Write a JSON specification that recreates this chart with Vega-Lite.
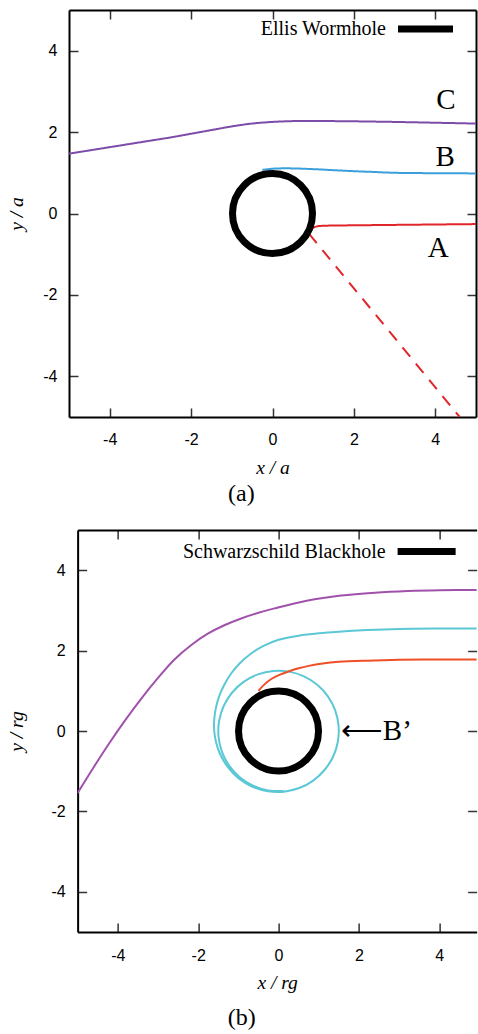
{
  "$schema": "https://vega.github.io/schema/vega-lite/v6.json",
  "padding": {"left": 6, "top": 9, "right": 0, "bottom": 0},
  "spacing": 23,
  "center": true,
  "background": "white",
  "resolve": {
    "scale": {"x": "independent", "y": "independent", "color": "independent", "stroke": "independent", "strokeDash": "independent"},
    "legend": {"color": "independent"}
  },
  "config": {
    "view": {"stroke": null},
    "axis": {
      "grid": false,
      "domainColor": "#000", "domainWidth": 2,
      "tickColor": "#333", "tickWidth": 1.5, "tickSize": -9,
      "labelFont": "Liberation Sans", "labelFontSize": 16, "labelColor": "#000",
      "labelExpr": "datum.value",
      "titleFont": "Liberation Serif", "titleFontSize": 19.5, "titleFontStyle": "italic", "titleFontWeight": "normal", "titleColor": "#000"
    },
    "title": {"font": "Liberation Serif", "fontSize": 24, "fontWeight": "normal", "color": "#000", "orient": "bottom", "anchor": "middle", "frame": "bounds"},
    "legend": {"labelFont": "Liberation Serif", "labelFontSize": 20, "labelColor": "#000", "padding": 0, "labelLimit": 400}
  },
  "datasets": {
    "wormhole": [
      {"curve": "C", "i": 0, "x": -5, "y": 1.47},
      {"curve": "C", "i": 1, "x": -4.5, "y": 1.55},
      {"curve": "C", "i": 2, "x": -4, "y": 1.63},
      {"curve": "C", "i": 3, "x": -3.5, "y": 1.71},
      {"curve": "C", "i": 4, "x": -3, "y": 1.79},
      {"curve": "C", "i": 5, "x": -2.5, "y": 1.87},
      {"curve": "C", "i": 6, "x": -2, "y": 1.96},
      {"curve": "C", "i": 7, "x": -1.5, "y": 2.05},
      {"curve": "C", "i": 8, "x": -1, "y": 2.14},
      {"curve": "C", "i": 9, "x": -0.5, "y": 2.21},
      {"curve": "C", "i": 10, "x": 0, "y": 2.25},
      {"curve": "C", "i": 11, "x": 0.5, "y": 2.27},
      {"curve": "C", "i": 12, "x": 1, "y": 2.275},
      {"curve": "C", "i": 13, "x": 1.5, "y": 2.27},
      {"curve": "C", "i": 14, "x": 2, "y": 2.265},
      {"curve": "C", "i": 15, "x": 3, "y": 2.25},
      {"curve": "C", "i": 16, "x": 4, "y": 2.23},
      {"curve": "C", "i": 17, "x": 5, "y": 2.21},
      {"curve": "B", "i": 0, "x": -0.25, "y": 1.07},
      {"curve": "B", "i": 1, "x": 0, "y": 1.1},
      {"curve": "B", "i": 2, "x": 0.3, "y": 1.11},
      {"curve": "B", "i": 3, "x": 0.6, "y": 1.105},
      {"curve": "B", "i": 4, "x": 1, "y": 1.09},
      {"curve": "B", "i": 5, "x": 1.5, "y": 1.065},
      {"curve": "B", "i": 6, "x": 2, "y": 1.04},
      {"curve": "B", "i": 7, "x": 2.5, "y": 1.02},
      {"curve": "B", "i": 8, "x": 3, "y": 1.0},
      {"curve": "B", "i": 9, "x": 4, "y": 0.99},
      {"curve": "B", "i": 10, "x": 5, "y": 0.985},
      {"curve": "A", "i": 0, "x": 0.95, "y": -0.4},
      {"curve": "A", "i": 1, "x": 1.0, "y": -0.35},
      {"curve": "A", "i": 2, "x": 1.1, "y": -0.315},
      {"curve": "A", "i": 3, "x": 1.3, "y": -0.3},
      {"curve": "A", "i": 4, "x": 1.6, "y": -0.295},
      {"curve": "A", "i": 5, "x": 2, "y": -0.29},
      {"curve": "A", "i": 6, "x": 3, "y": -0.28},
      {"curve": "A", "i": 7, "x": 4, "y": -0.27},
      {"curve": "A", "i": 8, "x": 5, "y": -0.26},
      {"curve": "A extension", "i": 0, "x": 0.9, "y": -0.5},
      {"curve": "A extension", "i": 1, "x": 4.6, "y": -5.0}
    ],
    "wormholeLabels": [
      {"label": "A", "x": 4.07, "y": -0.85},
      {"label": "B", "x": 4.24, "y": 1.38},
      {"label": "C", "x": 4.26, "y": 2.78}
    ],
    "wormholeObj": [{"x": 0, "y": 0, "object": "Ellis Wormhole"}],
    "blackhole": [
      {"curve": "purple", "i": 0, "x": -5, "y": -1.54},
      {"curve": "purple", "i": 1, "x": -4.6, "y": -0.9},
      {"curve": "purple", "i": 2, "x": -4.25, "y": -0.36},
      {"curve": "purple", "i": 3, "x": -3.85, "y": 0.22},
      {"curve": "purple", "i": 4, "x": -3.42, "y": 0.8},
      {"curve": "purple", "i": 5, "x": -3.0, "y": 1.32},
      {"curve": "purple", "i": 6, "x": -2.59, "y": 1.78},
      {"curve": "purple", "i": 7, "x": -2.17, "y": 2.14},
      {"curve": "purple", "i": 8, "x": -1.76, "y": 2.42},
      {"curve": "purple", "i": 9, "x": -1.35, "y": 2.63},
      {"curve": "purple", "i": 10, "x": -0.93, "y": 2.8},
      {"curve": "purple", "i": 11, "x": -0.5, "y": 2.94},
      {"curve": "purple", "i": 12, "x": -0.1, "y": 3.05},
      {"curve": "purple", "i": 13, "x": 0.7, "y": 3.24},
      {"curve": "purple", "i": 14, "x": 1.56, "y": 3.37},
      {"curve": "purple", "i": 15, "x": 2.4, "y": 3.44},
      {"curve": "purple", "i": 16, "x": 3.22, "y": 3.48},
      {"curve": "purple", "i": 17, "x": 4, "y": 3.5},
      {"curve": "purple", "i": 18, "x": 5, "y": 3.51},
      {"curve": "cyan", "i": 0, "x": 5.0, "y": 2.55},
      {"curve": "cyan", "i": 1, "x": 4.0, "y": 2.55},
      {"curve": "cyan", "i": 2, "x": 3.0, "y": 2.54},
      {"curve": "cyan", "i": 3, "x": 2.2, "y": 2.51},
      {"curve": "cyan", "i": 4, "x": 1.5, "y": 2.47},
      {"curve": "cyan", "i": 5, "x": 1.0, "y": 2.43},
      {"curve": "cyan", "i": 6, "x": 0.5, "y": 2.37},
      {"curve": "cyan", "i": 7, "x": 0.0, "y": 2.27},
      {"curve": "cyan", "i": 8, "x": -0.373, "y": 2.117},
      {"curve": "cyan", "i": 9, "x": -0.698, "y": 1.917},
      {"curve": "cyan", "i": 10, "x": -0.97, "y": 1.68},
      {"curve": "cyan", "i": 11, "x": -1.189, "y": 1.417},
      {"curve": "cyan", "i": 12, "x": -1.356, "y": 1.138},
      {"curve": "cyan", "i": 13, "x": -1.481, "y": 0.855},
      {"curve": "cyan", "i": 14, "x": -1.56, "y": 0.568},
      {"curve": "cyan", "i": 15, "x": -1.6, "y": 0.282},
      {"curve": "cyan", "i": 16, "x": -1.6, "y": 0.0},
      {"curve": "cyan", "i": 17, "x": -1.556, "y": -0.274},
      {"curve": "cyan", "i": 18, "x": -1.471, "y": -0.535},
      {"curve": "cyan", "i": 19, "x": -1.27, "y": -0.889},
      {"curve": "cyan", "i": 20, "x": -0.99, "y": -1.18},
      {"curve": "cyan", "i": 21, "x": -0.647, "y": -1.387},
      {"curve": "cyan", "i": 22, "x": -0.264, "y": -1.497},
      {"curve": "cyan", "i": 23, "x": 0.132, "y": -1.509},
      {"curve": "cyan", "i": 24, "x": 0.516, "y": -1.419},
      {"curve": "cyan", "i": 25, "x": 0.863, "y": -1.233},
      {"curve": "cyan", "i": 26, "x": 1.149, "y": -0.964},
      {"curve": "cyan", "i": 27, "x": 1.359, "y": -0.634},
      {"curve": "cyan", "i": 28, "x": 1.477, "y": -0.26},
      {"curve": "cyan", "i": 29, "x": 1.494, "y": 0.131},
      {"curve": "cyan", "i": 30, "x": 1.41, "y": 0.513},
      {"curve": "cyan", "i": 31, "x": 1.229, "y": 0.86},
      {"curve": "cyan", "i": 32, "x": 0.964, "y": 1.149},
      {"curve": "cyan", "i": 33, "x": 0.634, "y": 1.359},
      {"curve": "cyan", "i": 34, "x": 0.26, "y": 1.477},
      {"curve": "cyan", "i": 35, "x": -0.131, "y": 1.494},
      {"curve": "cyan", "i": 36, "x": -0.513, "y": 1.41},
      {"curve": "cyan", "i": 37, "x": -0.86, "y": 1.229},
      {"curve": "cyan", "i": 38, "x": -1.149, "y": 0.964},
      {"curve": "cyan", "i": 39, "x": -1.359, "y": 0.634},
      {"curve": "cyan", "i": 40, "x": -1.477, "y": 0.26},
      {"curve": "cyan", "i": 41, "x": -1.494, "y": -0.131},
      {"curve": "cyan", "i": 42, "x": -1.41, "y": -0.513},
      {"curve": "cyan", "i": 43, "x": -1.229, "y": -0.86},
      {"curve": "cyan", "i": 44, "x": -0.964, "y": -1.149},
      {"curve": "cyan", "i": 45, "x": -0.634, "y": -1.359},
      {"curve": "cyan", "i": 46, "x": -0.26, "y": -1.477},
      {"curve": "cyan", "i": 47, "x": 0.131, "y": -1.494},
      {"curve": "red", "i": 0, "x": -0.5, "y": 1.0},
      {"curve": "red", "i": 1, "x": -0.35, "y": 1.16},
      {"curve": "red", "i": 2, "x": -0.17, "y": 1.3},
      {"curve": "red", "i": 3, "x": 0.05, "y": 1.41},
      {"curve": "red", "i": 4, "x": 0.25, "y": 1.48},
      {"curve": "red", "i": 5, "x": 0.5, "y": 1.56},
      {"curve": "red", "i": 6, "x": 0.75, "y": 1.62},
      {"curve": "red", "i": 7, "x": 1.1, "y": 1.68},
      {"curve": "red", "i": 8, "x": 1.5, "y": 1.72},
      {"curve": "red", "i": 9, "x": 2.2, "y": 1.75},
      {"curve": "red", "i": 10, "x": 3, "y": 1.77},
      {"curve": "red", "i": 11, "x": 4, "y": 1.78},
      {"curve": "red", "i": 12, "x": 5, "y": 1.78}
    ],
    "blackholeLabels": [
      {"label": "⟵B’", "x": 1.55, "y": 0}
    ],
    "blackholeObj": [{"x": 0, "y": 0, "object": "Schwarzschild Blackhole"}]
  },
  "vconcat": [
    {
      "width": 407,
      "height": 407,
      "title": {"text": "(a)", "offset": 5, "dx": -5},
      "resolve": {"axis": {"x": "independent", "y": "independent"}},
      "layer": [
        {
          "data": {"name": "wormhole"},
          "mark": {"type": "line", "strokeWidth": 2, "clip": true, "interpolate": "catmull-rom"},
          "encoding": {
            "x": {"field": "x", "type": "quantitative", "scale": {"domain": [-5, 5], "nice": false, "zero": false},
                  "axis": {"orient": "bottom", "values": [-4, -2, 0, 2, 4], "title": "x / a", "labelPadding": 23, "titlePadding": 11}},
            "y": {"field": "y", "type": "quantitative", "scale": {"domain": [-5, 5], "nice": false, "zero": false},
                  "axis": {"orient": "left", "values": [-4, -2, 0, 2, 4], "title": "y / a", "labelPadding": 21, "titlePadding": 16.1}},
            "stroke": {"field": "curve", "type": "nominal", "scale": {"domain": ["A", "A extension", "B", "C"], "range": ["#e0262a", "#e0262a", "#3a9fda", "#7d4ca9"]}, "legend": null},
            "strokeDash": {"field": "curve", "type": "nominal", "scale": {"domain": ["A", "A extension", "B", "C"], "range": [[1, 0], [12, 9], [1, 0], [1, 0]]}, "legend": null},
            "order": {"field": "i", "type": "quantitative"}
          }
        },
        {
          "data": {"name": "wormholeObj"},
          "mark": {"type": "point", "shape": "circle", "filled": false, "strokeWidth": 7, "size": 6400, "opacity": 1},
          "encoding": {
            "x": {"field": "x", "type": "quantitative", "scale": {"domain": [-5, 5], "nice": false, "zero": false},
                  "axis": {"orient": "top", "values": [-4, -2, 0, 2, 4], "labels": false, "title": null}},
            "y": {"field": "y", "type": "quantitative", "scale": {"domain": [-5, 5], "nice": false, "zero": false},
                  "axis": {"orient": "right", "values": [-4, -2, 0, 2, 4], "labels": false, "title": null}},
            "color": {"field": "object", "type": "nominal", "scale": {"domain": ["Ellis Wormhole"], "range": ["#000000"]},
                      "legend": {"title": null, "orient": "none", "legendX": 343.5, "legendY": 6, "symbolType": "M-3,0L3,0", "symbolSize": 336, "symbolStrokeWidth": 7, "symbolStrokeColor": "#000", "labelAlign": "right", "labelOffset": -52.5}}
          }
        },
        {
          "data": {"name": "wormholeLabels"},
          "mark": {"type": "text", "font": "Liberation Serif", "fontSize": 29, "align": "center", "baseline": "middle", "color": "#000"},
          "encoding": {
            "x": {"field": "x", "type": "quantitative", "scale": {"domain": [-5, 5], "nice": false, "zero": false}, "axis": null},
            "y": {"field": "y", "type": "quantitative", "scale": {"domain": [-5, 5], "nice": false, "zero": false},
                  "axis": {"orient": "right", "offset": 10, "domainOpacity": 0, "ticks": false, "labels": false, "title": null}},
            "text": {"field": "label"}
          }
        }
      ]
    },
    {
      "width": 399,
      "height": 402,
      "title": {"text": "(b)", "offset": 14},
      "resolve": {"axis": {"x": "independent", "y": "independent"}},
      "layer": [
        {
          "data": {"name": "blackhole"},
          "mark": {"type": "line", "strokeWidth": 2, "clip": true, "interpolate": "catmull-rom"},
          "encoding": {
            "x": {"field": "x", "type": "quantitative", "scale": {"domain": [-5, 4.93], "nice": false, "zero": false},
                  "axis": {"orient": "bottom", "values": [-4, -2, 0, 2, 4], "title": "x / rg", "labelPadding": 24.5, "titlePadding": 10}},
            "y": {"field": "y", "type": "quantitative", "scale": {"domain": [-5, 5], "nice": false, "zero": false},
                  "axis": {"orient": "left", "values": [-4, -2, 0, 2, 4], "title": "y / rg", "labelPadding": 21.5, "titlePadding": 24.6}},
            "stroke": {"field": "curve", "type": "nominal", "scale": {"domain": ["purple", "cyan", "red"], "range": ["#a052ab", "#5bc8d6", "#f04e26"]}, "legend": null},
            "order": {"field": "i", "type": "quantitative"}
          }
        },
        {
          "data": {"name": "blackholeObj"},
          "mark": {"type": "point", "shape": "circle", "filled": false, "strokeWidth": 7, "size": 6400, "opacity": 1},
          "encoding": {
            "x": {"field": "x", "type": "quantitative", "scale": {"domain": [-5, 4.93], "nice": false, "zero": false},
                  "axis": {"orient": "top", "values": [-4, -2, 0, 2, 4], "labels": false, "title": null}},
            "y": {"field": "y", "type": "quantitative", "scale": {"domain": [-5, 5], "nice": false, "zero": false},
                  "axis": {"orient": "right", "values": [-4, -2, 0, 2, 4], "labels": false, "title": null, "domain": false}},
            "color": {"field": "object", "type": "nominal", "scale": {"domain": ["Schwarzschild Blackhole"], "range": ["#000000"]},
                      "legend": {"title": null, "orient": "none", "legendX": 335.5, "legendY": 8, "symbolType": "M-3,0L3,0", "symbolSize": 374, "symbolStrokeWidth": 7, "symbolStrokeColor": "#000", "labelAlign": "right", "labelOffset": -54.5}}
          }
        },
        {
          "data": {"name": "blackholeLabels"},
          "mark": {"type": "text", "font": "Liberation Serif", "fontSize": 29, "align": "left", "baseline": "middle", "color": "#000"},
          "encoding": {
            "x": {"field": "x", "type": "quantitative", "scale": {"domain": [-5, 4.93], "nice": false, "zero": false}, "axis": null},
            "y": {"field": "y", "type": "quantitative", "scale": {"domain": [-5, 5], "nice": false, "zero": false}, "axis": null},
            "text": {"field": "label"}
          }
        }
      ]
    }
  ]
}
